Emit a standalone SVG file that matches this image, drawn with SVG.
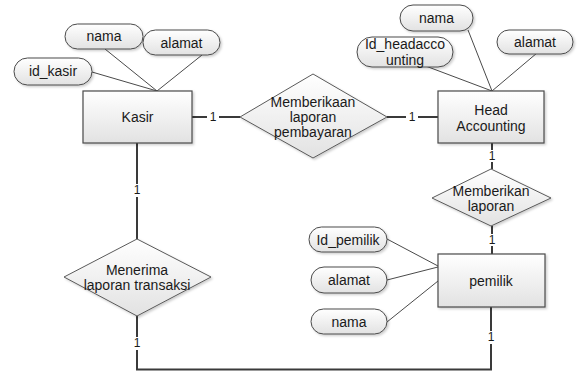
<svg xmlns="http://www.w3.org/2000/svg" width="582" height="374" viewBox="0 0 582 374">
<defs>
<linearGradient id="g" x1="0" y1="0" x2="0" y2="1">
<stop offset="0" stop-color="#ffffff"/>
<stop offset="1" stop-color="#e2e2e2"/>
</linearGradient>
<filter id="sh" x="-10%" y="-10%" width="130%" height="130%">
<feDropShadow dx="1.5" dy="1.5" stdDeviation="1" flood-color="#000" flood-opacity="0.2"/>
</filter>
</defs>
<style>
.ent{fill:url(#g);stroke:#4a4a4a;stroke-width:1.2;filter:url(#sh)}
.rel{fill:url(#g);stroke:#5a5a5a;stroke-width:1;filter:url(#sh)}
.att{fill:url(#g);stroke:#4a4a4a;stroke-width:1;filter:url(#sh)}
.t{font-family:"Liberation Sans",Arial,sans-serif;font-size:14px;fill:#1a1a1a;text-anchor:middle;dominant-baseline:central}
.ta{font-family:"Liberation Sans",Arial,sans-serif;font-size:14px;fill:#1a1a1a;text-anchor:middle;dominant-baseline:central}
.n{font-family:"Liberation Sans",Arial,sans-serif;font-size:12px;fill:#1a1a1a;text-anchor:middle;dominant-baseline:central}
.c{stroke:#3a3a3a;stroke-width:2;fill:none}
.a{stroke:#4a4a4a;stroke-width:1;fill:none}
</style>
<g id="connectors">
<line class="a" x1="105" y1="49" x2="157" y2="91"/>
<line class="a" x1="202" y1="55" x2="157" y2="91"/>
<line class="a" x1="92" y1="72" x2="157" y2="91"/>
<line class="a" x1="468" y1="30" x2="492" y2="91"/>
<line class="a" x1="423" y1="65" x2="492" y2="91"/>
<line class="a" x1="537" y1="53" x2="492" y2="91"/>
<line class="a" x1="387" y1="239" x2="438" y2="266"/>
<line class="a" x1="387" y1="280" x2="438" y2="267"/>
<line class="a" x1="387" y1="322" x2="438" y2="281"/>
<path class="c" d="M192 117 H207 M219 117 H240"/>
<text class="n" x="213" y="117">1</text>
<path class="c" d="M387 117 H406 M418 117 H438"/>
<text class="n" x="412" y="117">1</text>
<path class="c" d="M492 143 V150 M492 162 V169"/>
<text class="n" x="492" y="156">1</text>
<path class="c" d="M492 226 V234 M492 246 V254"/>
<text class="n" x="492" y="240">1</text>
<path class="c" d="M137 143 V184 M137 197 V239"/>
<text class="n" x="137" y="190">1</text>
<path class="c" d="M137 316 V337 M137 350 V369.5 H491 V344 M491 331 V307"/>
<text class="n" x="137" y="343">1</text>
<text class="n" x="491" y="337">1</text>
</g>
<g id="kasir">
<rect class="ent" x="83" y="91" width="109" height="52"/>
<text class="t" x="137.5" y="117">Kasir</text>
</g>
<g id="kasir_nama">
<rect class="att" x="65" y="24" width="78" height="25" rx="12.5"/>
<text class="ta" x="104" y="36">nama</text>
</g>
<g id="kasir_alamat">
<rect class="att" x="143" y="30" width="77" height="25" rx="12.5"/>
<text class="ta" x="181.5" y="42.5">alamat</text>
</g>
<g id="kasir_id">
<rect class="att" x="14" y="58" width="78" height="27" rx="13.5"/>
<text class="ta" x="53" y="71">id_kasir</text>
</g>
<g id="rel_pembayaran">
<polygon class="rel" points="313,74 387,117 313,158 240,117"/>
<text class="t" x="313" y="102">Memberikaan</text>
<text class="t" x="313" y="117">laporan</text>
<text class="t" x="313" y="132">pembayaran</text>
</g>
<g id="head_accounting">
<rect class="ent" x="438" y="91" width="106" height="52"/>
<text class="t" x="491" y="110">Head</text>
<text class="t" x="491" y="126">Accounting</text>
</g>
<g id="head_nama">
<rect class="att" x="400" y="5" width="73" height="26" rx="13"/>
<text class="ta" x="436.5" y="18">nama</text>
</g>
<g id="head_id">
<rect class="att" x="357" y="37" width="96" height="30" rx="15"/>
<text class="ta" x="405" y="44">Id_headacco</text>
<text class="ta" x="405" y="59.5">unting</text>
</g>
<g id="head_alamat">
<rect class="att" x="497" y="30" width="76" height="24" rx="12"/>
<text class="ta" x="535" y="42">alamat</text>
</g>
<g id="rel_laporan">
<polygon class="rel" points="491,169 551,198 491,226 432,198"/>
<text class="t" x="491" y="191">Memberikan</text>
<text class="t" x="491" y="206">laporan</text>
</g>
<g id="pemilik">
<rect class="ent" x="438" y="254" width="107" height="53"/>
<text class="t" x="491" y="281">pemilik</text>
</g>
<g id="pemilik_id">
<rect class="att" x="309" y="227" width="78" height="25" rx="12.5"/>
<text class="ta" x="348" y="239.5">Id_pemilik</text>
</g>
<g id="pemilik_alamat">
<rect class="att" x="311" y="267" width="76" height="26" rx="13"/>
<text class="ta" x="349" y="280">alamat</text>
</g>
<g id="pemilik_nama">
<rect class="att" x="311" y="309" width="76" height="25" rx="12.5"/>
<text class="ta" x="349" y="321.5">nama</text>
</g>
<g id="rel_transaksi">
<polygon class="rel" points="137,239 211,277 137,316 64,277"/>
<text class="t" x="137" y="270">Menerima</text>
<text class="t" x="137" y="285">laporan transaksi</text>
</g>
</svg>
